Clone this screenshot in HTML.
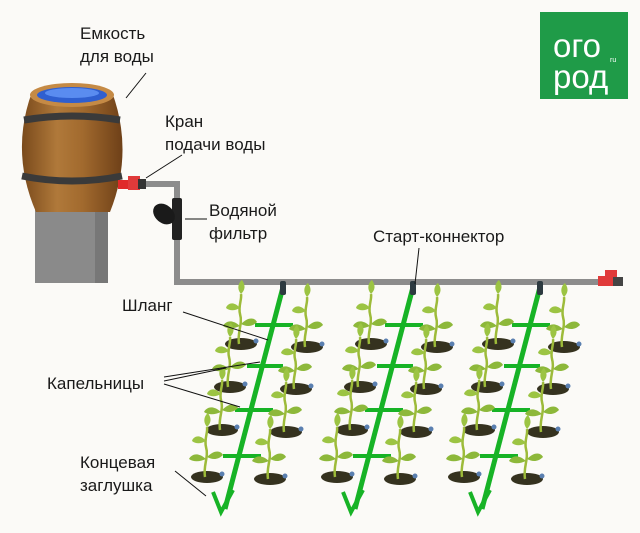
<!DOCTYPE html>
<html><head><meta charset="utf-8"><style>
html,body{margin:0;padding:0;background:#fbfaf7;}
svg{display:block}
text{font-family:"Liberation Sans","DejaVu Sans",sans-serif;font-size:17px;fill:#1a1a1a}
</style></head><body>
<svg width="640" height="533" viewBox="0 0 640 533" xmlns="http://www.w3.org/2000/svg">
<defs>
<linearGradient id="wood" x1="0" x2="1">
<stop offset="0" stop-color="#7a4a1c"/><stop offset="0.35" stop-color="#b0793a"/><stop offset="0.6" stop-color="#a26a2e"/><stop offset="1" stop-color="#6e4018"/>
</linearGradient>
<g id="plant">
<ellipse cx="0" cy="0" rx="16" ry="6" fill="#35321f"/>
<path d="M-2,0 C-4,-12 2,-20 -1,-30 C-3,-38 1,-44 0,-50" stroke="#9dbb3a" stroke-width="2.5" fill="none"/>
<path d="M-1,-18 C-10,-26 -16,-22 -18,-18 C-12,-14 -6,-16 -1,-18Z" fill="#8db83a"/>
<path d="M0,-20 C8,-28 14,-26 16,-22 C10,-16 4,-18 0,-20Z" fill="#8db83a"/>
<path d="M-1,-36 C-8,-44 -14,-40 -15,-36 C-10,-32 -5,-34 -1,-36Z" fill="#9cc443"/>
<path d="M0,-50 C-5,-56 -2,-62 1,-64 C5,-58 4,-54 0,-50Z" fill="#9cc443"/>
<circle cx="15" cy="-3" r="2.5" fill="#5a7fb0"/>
</g>
<g id="grp">
<line x1="0" y1="0" x2="-58" y2="222" stroke="#17b326" stroke-width="5"/>
<path d="M-70,205 L-62,225 L-50,203" stroke="#17b326" stroke-width="4" fill="none"/>
<line x1="-28" y1="38" x2="10" y2="38" stroke="#17b326" stroke-width="4"/>
<line x1="-36" y1="79" x2="0" y2="79" stroke="#17b326" stroke-width="4"/>
<line x1="-48" y1="123" x2="-10" y2="123" stroke="#17b326" stroke-width="4"/>
<line x1="-60" y1="169" x2="-22" y2="169" stroke="#17b326" stroke-width="4"/>
<rect x="-3" y="-6" width="6" height="14" rx="2" fill="#2d3a40"/>
<use href="#plant" x="-42" y="57"/>
<use href="#plant" x="24" y="60"/>
<use href="#plant" x="-53" y="100"/>
<use href="#plant" x="13" y="102"/>
<use href="#plant" x="-61" y="143"/>
<use href="#plant" x="3" y="145"/>
<use href="#plant" x="-76" y="190"/>
<use href="#plant" x="-13" y="192"/>
</g>
</defs>
<!-- logo -->
<rect x="540" y="12" width="88" height="87" fill="#1f9b48"/>
<text x="553" y="57" style="font-size:33px;fill:#fff">ого</text>
<text x="553" y="88" style="font-size:33px;fill:#fff">род</text>
<text x="610" y="62" style="font-size:7px;fill:#fff">ru</text>
<!-- pedestal -->
<rect x="35" y="205" width="73" height="78" fill="#8a8a8a"/>
<rect x="95" y="205" width="13" height="78" fill="#777"/>
<!-- barrel -->
<path d="M32,92 Q10,152 36,212 L110,212 Q134,152 112,92Z" fill="url(#wood)"/>
<path d="M24,120 Q72,112 120,120" stroke="#3a3a3a" stroke-width="7" fill="none"/>
<path d="M22,176 Q72,186 122,176" stroke="#3a3a3a" stroke-width="7" fill="none"/>
<ellipse cx="72" cy="95" rx="42" ry="12" fill="#c58a45"/>
<ellipse cx="72" cy="95" rx="35" ry="8" fill="#2f5fd0"/>
<ellipse cx="72" cy="93" rx="27" ry="5" fill="#5a8cf0"/>
<!-- pipe -->
<path d="M140,184 H177 V282 H605" stroke="#8c8c8c" stroke-width="6" fill="none"/>
<!-- tap -->
<rect x="118" y="180" width="10" height="9" fill="#e02a2a"/>
<rect x="128" y="176" width="12" height="14" fill="#e03a3a"/>
<rect x="138" y="179" width="8" height="10" fill="#333"/>
<!-- filter -->
<rect x="172" y="198" width="10" height="42" rx="2" fill="#222"/>
<ellipse cx="164" cy="214" rx="12" ry="9" fill="#1a1a1a" transform="rotate(40 164 214)"/>
<!-- end cap -->
<rect x="598" y="276" width="10" height="10" fill="#e03a3a"/>
<rect x="605" y="270" width="12" height="16" fill="#e03a3a"/>
<rect x="613" y="277" width="10" height="9" fill="#444"/>
<!-- groups -->
<use href="#grp" x="283" y="287"/>
<use href="#grp" x="413" y="287"/>
<use href="#grp" x="540" y="287"/>
<!-- labels -->
<text x="80" y="39">Емкость</text>
<text x="80" y="62">для воды</text>
<line x1="146" y1="73" x2="126" y2="98" stroke="#111"/>
<text x="165" y="127">Кран</text>
<text x="165" y="150">подачи воды</text>
<line x1="182" y1="155" x2="146" y2="178" stroke="#111"/>
<text x="209" y="216">Водяной</text>
<text x="209" y="239">фильтр</text>
<line x1="185" y1="219" x2="207" y2="219" stroke="#111"/>
<text x="373" y="242">Старт-коннектор</text>
<line x1="419" y1="248" x2="415" y2="284" stroke="#111"/>
<text x="122" y="311">Шланг</text>
<line x1="183" y1="312" x2="268" y2="340" stroke="#111"/>
<text x="47" y="389">Капельницы</text>
<line x1="164" y1="377" x2="260" y2="362" stroke="#111"/>
<line x1="164" y1="381" x2="226" y2="368" stroke="#111"/>
<line x1="164" y1="384" x2="240" y2="407" stroke="#111"/>
<text x="80" y="468">Концевая</text>
<text x="80" y="491">заглушка</text>
<line x1="175" y1="471" x2="206" y2="496" stroke="#111"/>
</svg>
</body></html>
